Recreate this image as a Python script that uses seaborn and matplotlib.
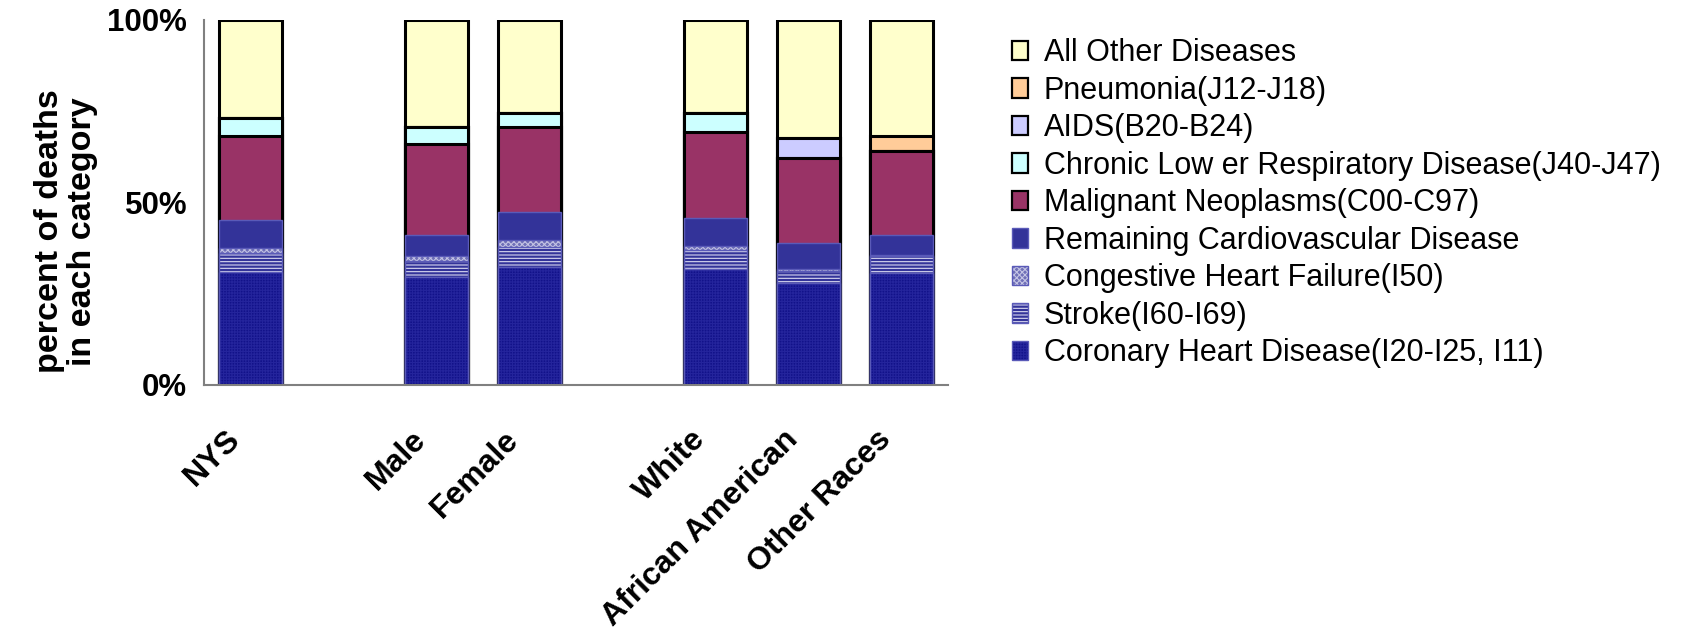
import matplotlib
matplotlib.use("Agg")
import matplotlib.pyplot as plt
import matplotlib.patches as mpatches
import matplotlib.colors as mcolors
from matplotlib.transforms import ScaledTranslation
import seaborn as sns
import pandas as pd
import numpy as np

###### Data (percent of deaths)
slots = ["NYS", "gap1", "Male", "Female", "gap2", "White", "African American", "Other Races"]
categories = ["NYS", "Male", "Female", "White", "African American", "Other Races"]

coronary    = [31.0, 29.5, 32.3, 31.8, 28.0, 30.5]
stroke      = [5.0, 4.5, 5.5, 5.0, 3.3, 4.7]
chf         = [1.5, 1.2, 1.8, 1.3, 0.5, 0.4]
remaining   = [7.5, 5.9, 7.7, 7.5, 7.0, 5.5]
malignant   = [23.2, 24.8, 23.2, 23.6, 23.2, 23.0]
clrd        = [4.9, 4.8, 4.0, 5.3, 0.0, 0.0]
aids        = [0.0, 0.0, 0.0, 0.0, 5.5, 0.0]
pneumonia   = [0.0, 0.0, 0.0, 0.0, 0.0, 4.1]
other       = [26.9, 29.3, 25.5, 25.5, 32.5, 31.8]

# bottom -> top
series_names = [
    "Coronary Heart Disease(I20-I25, I11)",
    "Stroke(I60-I69)",
    "Congestive Heart Failure(I50)",
    "Remaining Cardiovascular Disease",
    "Malignant Neoplasms(C00-C97)",
    "Chronic Low er Respiratory Disease(J40-J47)",
    "AIDS(B20-B24)",
    "Pneumonia(J12-J18)",
    "All Other Diseases",
]
series_values = [coronary, stroke, chf, remaining, malignant, clrd, aids, pneumonia, other]

# (face, edge, hatch, hatch colour, linewidth)
styles = [
    ("#12128a", "#5a5ab8", "++++++", "#24249c", 1.0),
    ("#333399", "#5a5ab8", "-----", "#d8d8f0", 1.0),
    ("#7070b8", "#5a5ab8", "xxxxxx", "#c4c4e4", 1.0),
    ("#333399", "#5a5ab8", None, None, 1.0),
    ("#993366", "black", None, None, 2.2),
    ("#CCFFFF", "black", None, None, 2.2),
    ("#CCCCFF", "black", None, None, 2.2),
    ("#FFCC99", "black", None, None, 2.2),
    ("#FFFFCC", "black", None, None, 2.2),
]


def style_patch(p, face, edge, hatch, hcol, lw):
    p.set_facecolor(face)
    p.set_edgecolor(edge)
    p.set_linewidth(lw)
    if hatch:
        p.set_hatch(hatch)
        if hasattr(p, "set_hatchcolor"):
            p.set_hatchcolor(hcol)
        else:
            p._hatch_color = mcolors.to_rgba(hcol)


df = pd.DataFrame({"category": categories})
cum = np.zeros(len(categories))
for name, vals in zip(series_names, series_values):
    cum = cum + np.array(vals)
    df[name] = cum.copy()

sns.set_style("white")
plt.rcParams["font.family"] = ["Liberation Sans", "DejaVu Sans"]
plt.rcParams["hatch.linewidth"] = 0.8
for key in ["text.color", "axes.labelcolor", "xtick.labelcolor", "ytick.labelcolor"]:
    plt.rcParams[key] = "black"

fig = plt.figure(figsize=(16.86, 6.3), dpi=100)
ax = fig.add_axes([0.121, 0.389, 0.4413, 0.580])

###### Stacked bars: draw cumulative totals from the top series down
for i in range(len(series_names) - 1, -1, -1):
    n_before = len(ax.patches)
    sns.barplot(data=df, x="category", y=series_names[i], order=slots,
                color=styles[i][0], saturation=1, width=0.68, ax=ax)
    for p in ax.patches[n_before:]:
        style_patch(p, *styles[i])

ax.set_ylim(0, 100)
ax.set_xlim(-0.5, len(slots) - 0.5)
ax.set_yticks([0, 50, 100])
ax.set_yticklabels(["0%", "50%", "100%"], fontsize=22.5, fontweight="bold")
ax.set_xticks(range(len(slots)))
ax.set_xticklabels([s if not s.startswith("gap") else "" for s in slots],
                   fontsize=23, fontweight="bold", rotation=45,
                   ha="right", rotation_mode="anchor", va="center")
ax.set_xticks(np.arange(-0.5, len(slots), 1.0), minor=True)
ax.tick_params(axis="x", which="major", length=0, pad=36, labelcolor="black")
ax.tick_params(axis="x", which="minor", length=8, width=1.2, color="#222222", direction="out")
ax.tick_params(axis="y", length=8, width=1.2, color="#444444", direction="out", pad=4,
               labelcolor="black")
for lab in ax.get_xticklabels():
    lab.set_transform(lab.get_transform() + ScaledTranslation(-0.15, 0, fig.dpi_scale_trans))

ax.set_xlabel("")
ax.set_ylabel("percent of deaths\nin each category", fontsize=24.5, fontweight="bold",
              linespacing=1.1, color="black")
ax.yaxis.set_label_coords(-0.142, 0.42)

sns.despine(ax=ax)
for s in ["left", "bottom"]:
    ax.spines[s].set_color("#808080")
    ax.spines[s].set_linewidth(1.5)

###### Legend (top series first)
handles = []
for i in range(len(series_names) - 1, -1, -1):
    h = mpatches.Patch(label=series_names[i])
    style_patch(h, *styles[i])
    if styles[i][1] == "black":
        h.set_linewidth(1.6)
    handles.append(h)

fig.legend(handles=handles, loc="upper left", bbox_to_anchor=(0.6, 0.939),
           frameon=False, fontsize=22, handlelength=0.55, handleheight=0.6,
           handletextpad=0.5, labelspacing=0.245, borderpad=0, borderaxespad=0,
           labelcolor="black")

fig.savefig("out.png", dpi=100, facecolor="white")
